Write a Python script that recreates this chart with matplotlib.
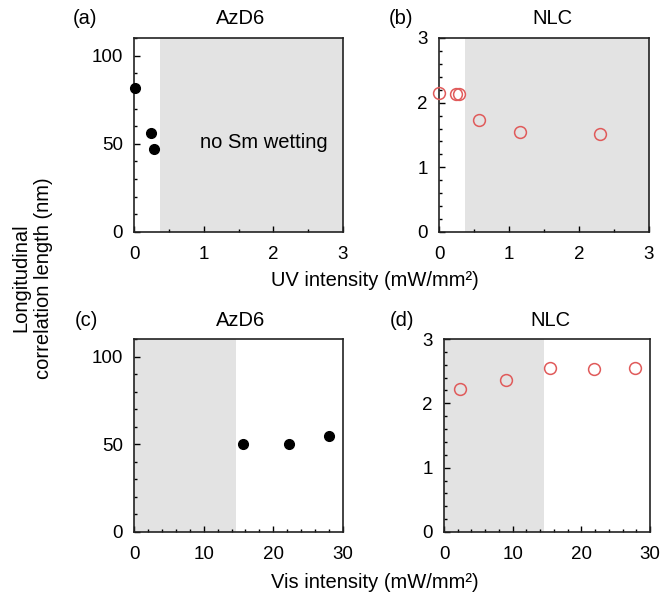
import matplotlib
matplotlib.use('Agg')
import matplotlib.pyplot as plt
from matplotlib.ticker import MultipleLocator

plt.rcParams['font.family'] = ['Liberation Sans', 'DejaVu Sans']
plt.rcParams['font.size'] = 13.5

# (a) AzD6, UV
uv_azd6_x = [0.02, 0.24, 0.29]
uv_azd6_y = [81.5, 56, 47]
# (b) NLC, UV
uv_nlc_x = [0.0, 0.24, 0.28, 0.57, 1.15, 2.30]
uv_nlc_y = [2.15, 2.13, 2.13, 1.73, 1.54, 1.52]
# (c) AzD6, Vis
vis_azd6_x = [15.7, 22.2, 28.0]
vis_azd6_y = [50, 50, 55]
# (d) NLC, Vis
vis_nlc_x = [2.4, 9.1, 15.5, 21.9, 27.8]
vis_nlc_y = [2.22, 2.37, 2.55, 2.53, 2.55]

uv_shade = 0.37
vis_shade = 14.6
shade_color = '#e3e3e3'

W, H = 661, 602
fig = plt.figure(figsize=(W / 100, H / 100), dpi=100)


def px_axes(left, right, top, bottom):
    return fig.add_axes([left / W, (H - bottom) / H, (right - left) / W, (bottom - top) / H])


def style(ax, xmax, xmaj, xmin, ymax, ymin, yticks):
    ax.set_xlim(0, xmax)
    ax.set_ylim(0, ymax)
    ax.xaxis.set_major_locator(MultipleLocator(xmaj))
    ax.xaxis.set_minor_locator(MultipleLocator(xmin))
    ax.set_yticks(yticks)
    ax.yaxis.set_minor_locator(MultipleLocator(ymin))
    ax.tick_params(which='both', direction='in', width=1)
    ax.tick_params(which='major', length=4, labelsize=13.5)
    ax.tick_params(axis='x', which='major', pad=10)
    ax.tick_params(axis='y', which='major', pad=8)
    ax.tick_params(which='minor', length=2.5)
    for s in ax.spines.values():
        s.set_linewidth(1.2)
        s.set_color('#222222')


ax_a = px_axes(134, 343, 38, 232)
ax_b = px_axes(439, 649, 38, 232)
ax_c = px_axes(134, 343, 339, 532)
ax_d = px_axes(444, 650, 339, 532)

# (a)
ax_a.axvspan(uv_shade, 3, color=shade_color, lw=0, zorder=0)
ax_a.plot(uv_azd6_x, uv_azd6_y, 'o', color='black', ms=7, clip_on=False, zorder=3)
ax_a.text(1.86, 51, 'no Sm wetting', ha='center', va='center', fontsize=14.5)
style(ax_a, 3, 1, 0.5, 110, 10, [0, 50, 100])

# (b)
ax_b.axvspan(uv_shade, 3, color=shade_color, lw=0, zorder=0)
ax_b.plot(uv_nlc_x, uv_nlc_y, 'o', mfc='none', mec='#e05a5a', mew=1.1, ms=8.5, clip_on=False, zorder=3)
style(ax_b, 3, 1, 0.5, 3, 0.2, [0, 1, 2, 3])

# (c)
ax_c.axvspan(0, vis_shade, color=shade_color, lw=0, zorder=0)
ax_c.plot(vis_azd6_x, vis_azd6_y, 'o', color='black', ms=7, zorder=3)
style(ax_c, 30, 10, 2, 110, 10, [0, 50, 100])

# (d)
ax_d.axvspan(0, vis_shade, color=shade_color, lw=0, zorder=0)
ax_d.plot(vis_nlc_x, vis_nlc_y, 'o', mfc='none', mec='#e05a5a', mew=1.1, ms=8.5, zorder=3)
style(ax_d, 30, 10, 2, 3, 0.2, [0, 1, 2, 3])

# panel titles
for lab, name, xl, xn, yy in [('(a)', 'AzD6', 85, 241, 19), ('(b)', 'NLC', 401, 552, 19),
                              ('(c)', 'AzD6', 86, 241, 321), ('(d)', 'NLC', 402, 550, 321)]:
    fig.text(xl / W, 1 - yy / H, lab, ha='center', va='center', fontsize=14.5)
    fig.text(xn / W, 1 - yy / H, name, ha='center', va='center', fontsize=14.5)

fig.text(375 / W, 1 - 281 / H, 'UV intensity (mW/mm²)', ha='center', va='center', fontsize=14.5)
fig.text(375 / W, 1 - 583 / H, 'Vis intensity (mW/mm²)', ha='center', va='center', fontsize=14.5)
fig.text(32 / W, 1 - 278 / H, 'Longitudinal\ncorrelation length (nm)', ha='center', va='center',
         rotation=90, fontsize=14.5, linespacing=1.25)

fig.savefig('out.png', dpi=100)
